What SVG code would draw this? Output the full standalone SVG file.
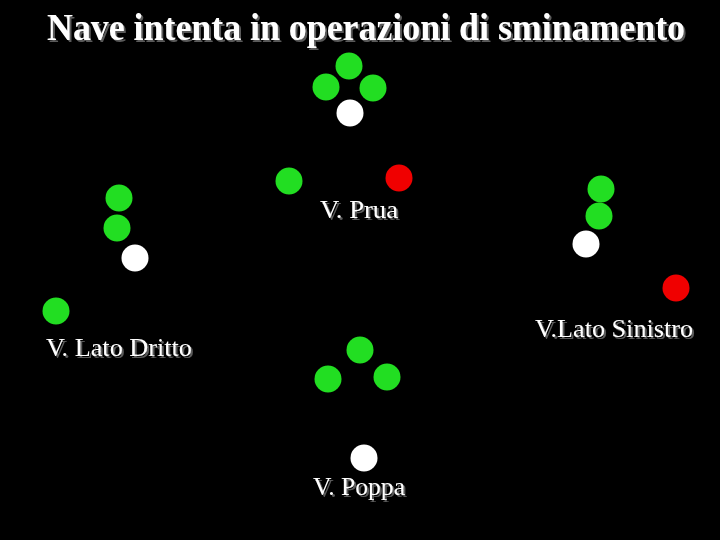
<svg xmlns="http://www.w3.org/2000/svg" width="720" height="540" viewBox="0 0 720 540">
<style>
.bg{fill:#000}
.t{font-family:"Liberation Serif","Times New Roman",serif;fill:#fff;filter:url(#shadow)}
.title{font-size:37px;font-weight:bold}
.lbl{font-size:25px}
.g{fill:#22de22}
.r{fill:#f00000}
.w{fill:#ffffff}
.l{filter:url(#soft)}
</style>
<defs>
<filter id="soft" x="-20%" y="-20%" width="140%" height="140%"><feGaussianBlur stdDeviation="0.6"/></filter>
<filter id="shadow" x="-5%" y="-20%" width="110%" height="150%">
<feOffset in="SourceAlpha" dx="2" dy="2" result="o"/>
<feFlood flood-color="#5a5a5a"/>
<feComposite in2="o" operator="in" result="s"/>
<feMerge><feMergeNode in="s"/><feMergeNode in="SourceGraphic"/></feMerge>
</filter>
</defs>
<rect class="bg" width="720" height="540"/>
<g id="title">
<text class="t title" x="47" y="40" textLength="638" lengthAdjust="spacingAndGlyphs">Nave intenta in operazioni di sminamento</text>
</g>
<g id="prua" class="l">
<circle class="g" cx="349" cy="66" r="13.5"/>
<circle class="g" cx="326" cy="87" r="13.5"/>
<circle class="g" cx="373" cy="88" r="13.5"/>
<circle class="w" cx="350" cy="113" r="13.5"/>
<circle class="g" cx="289" cy="181" r="13.5"/>
<circle class="r" cx="399" cy="178" r="13.5"/>
</g>
<g id="prua-label">
<text class="t lbl" x="320" y="218" textLength="78" lengthAdjust="spacingAndGlyphs">V. Prua</text>
</g>
<g id="lato-dritto" class="l">
<circle class="g" cx="119" cy="198" r="13.5"/>
<circle class="g" cx="117" cy="228" r="13.5"/>
<circle class="w" cx="135" cy="258" r="13.5"/>
<circle class="g" cx="56" cy="311" r="13.5"/>
</g>
<g id="lato-dritto-label">
<text class="t lbl" x="46" y="356" textLength="146" lengthAdjust="spacingAndGlyphs">V. Lato Dritto</text>
</g>
<g id="lato-sinistro" class="l">
<circle class="g" cx="601" cy="189" r="13.5"/>
<circle class="g" cx="599" cy="216" r="13.5"/>
<circle class="w" cx="586" cy="244" r="13.5"/>
<circle class="r" cx="676" cy="288" r="13.5"/>
</g>
<g id="lato-sinistro-label">
<text class="t lbl" x="535" y="337" textLength="158" lengthAdjust="spacingAndGlyphs">V.Lato Sinistro</text>
</g>
<g id="poppa" class="l">
<circle class="g" cx="360" cy="350" r="13.5"/>
<circle class="g" cx="328" cy="379" r="13.5"/>
<circle class="g" cx="387" cy="377" r="13.5"/>
<circle class="w" cx="364" cy="458" r="13.5"/>
</g>
<g id="poppa-label">
<text class="t lbl" x="313" y="495" textLength="92" lengthAdjust="spacingAndGlyphs">V. Poppa</text>
</g>
</svg>
